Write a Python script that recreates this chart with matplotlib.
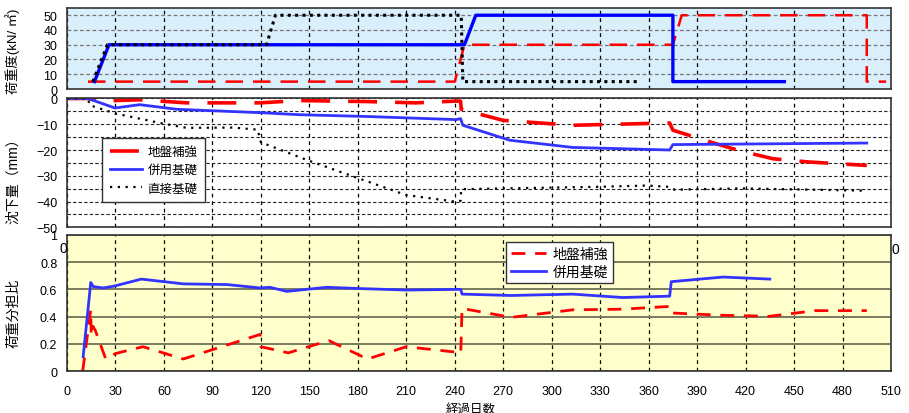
import numpy as np
import matplotlib.pyplot as plt
from matplotlib.ticker import MultipleLocator

plt.rcParams['font.family'] = ['Liberation Sans', 'Noto Sans CJK JP']

# 荷重度 (kN/m2)
load_reinf_x = [13, 240, 246, 375, 380.5, 495, 495, 507]
load_reinf_y = [5, 5, 30, 30, 50, 50, 5, 5]
load_comb_x = [17, 26, 246, 253, 375, 375, 444]
load_comb_y = [5, 30, 30, 50, 50, 5, 5]
load_direct_x = [16, 25, 123.5, 129, 244, 245, 355]
load_direct_y = [5, 30, 30, 50, 50, 5, 5]

# 沈下量 (mm)
settle_reinf_x = [0, 13, 20, 45, 74, 119.5, 144, 186, 216, 241, 243.6, 244, 270, 313, 373, 375, 396, 417, 437, 458, 495]
settle_reinf_y = [0, 0, -1, -0.5, -1.7, -1.7, -0.8, -1.2, -1.7, -1, -1, -4.2, -8.5, -10.4, -9.5, -12.3, -16.5, -20.4, -23.4, -24.6, -26]
settle_comb_x = [0, 13, 29.7, 45, 68, 119.5, 144, 186, 241, 243.6, 245, 274, 313, 373, 375, 495]
settle_comb_y = [0, 0, -3.7, -2.4, -4.2, -5.5, -6.3, -7, -8.2, -7.8, -10.4, -16.2, -19, -20, -17.9, -17.3]
settle_direct_x = [0, 13, 14, 29.7, 59, 74, 103, 118, 120, 149, 180, 210, 241, 243.6, 244, 328, 359, 373, 376, 417, 495]
settle_direct_y = [0, 0, -2.6, -5.8, -9.7, -11.4, -11.3, -12.1, -17, -24, -30.9, -37.5, -40.1, -39.7, -35.2, -34.3, -33.8, -34.3, -35.4, -34.9, -35.8]

# 荷重分担比
ratio_comb_x = [10, 14.7, 16.3, 22.5, 29.7, 46, 72, 99, 119.5, 125.6, 136, 160.7, 183, 210, 243.7, 244.5, 275, 313, 344, 373, 374, 406, 435]
ratio_comb_y = [0.107, 0.65, 0.62, 0.61, 0.625, 0.675, 0.64, 0.635, 0.61, 0.615, 0.585, 0.615, 0.605, 0.595, 0.6, 0.565, 0.555, 0.565, 0.54, 0.55, 0.656, 0.69, 0.675]
ratio_reinf_x = [9.7, 14.7, 15, 16, 17.5, 24, 30, 47, 72, 119.5, 120, 137, 162, 186, 210, 241, 243.7, 244.5, 275, 313, 344, 373, 374, 406, 435, 463, 495]
ratio_reinf_y = [0, 0.45, 0.26, 0.33, 0.3, 0.09, 0.13, 0.18, 0.09, 0.27, 0.18, 0.135, 0.225, 0.09, 0.18, 0.14, 0.13, 0.46, 0.395, 0.45, 0.455, 0.475, 0.427, 0.41, 0.403, 0.444, 0.444]

x_ticks = np.arange(0, 511, 30)
FS = 9

fig = plt.figure(figsize=(9.09, 4.14), dpi=100)
ax1 = fig.add_axes([0.0737, 0.7826, 0.9065, 0.196])
ax2 = fig.add_axes([0.0737, 0.4486, 0.9065, 0.3111])
ax3 = fig.add_axes([0.0737, 0.1007, 0.9065, 0.3300])

for ax in (ax1, ax2, ax3):
    ax.set_xlim(0, 510)
    ax.set_xticks(x_ticks)
    ax.tick_params(length=0, labelsize=FS, pad=7)
    ax.set_axisbelow(True)
    for s in ax.spines.values():
        s.set_color('#333333')
        s.set_linewidth(1.2)
    ax.grid(axis='x', color='black', linestyle=(0, (3, 3)), linewidth=0.9)

# top: load
ax1.set_facecolor('#d9effc')
ax1.set_ylim(0, 55)
ax1.set_yticks(np.arange(0, 51, 10))
ax1.grid(axis='y', color='#777777', linestyle=(0, (3, 2)), linewidth=0.9)
ax1.tick_params(axis='x', labelbottom=False)
ax1.plot(load_reinf_x, load_reinf_y, color='red', lw=1.8, dashes=(7, 4))
ax1.plot(load_comb_x, load_comb_y, color='blue', lw=2.4)
ax1.plot(load_direct_x, load_direct_y, color='black', lw=2.2, linestyle=(0, (1, 1.4)))
ax1.set_ylabel('荷重度(kN/ ㎡)', fontsize=9.5)
ax1.yaxis.set_label_coords(-0.057, 0.48)

# middle: settlement
ax2.set_facecolor('white')
ax2.set_ylim(-50, 0)
ax2.set_yticks(np.arange(-50, 1, 10))
ax2.yaxis.set_minor_locator(MultipleLocator(5))
ax2.tick_params(which='minor', length=0)
ax2.grid(axis='y', which='both', color='#222222', linestyle=(0, (3, 2)), linewidth=0.8)
ax2.tick_params(axis='x', labelbottom=False)
ax2.plot(settle_reinf_x, settle_reinf_y, color='red', lw=2.6, dashes=(8, 5), label='地盤補強')
ax2.plot(settle_comb_x, settle_comb_y, color='#3333ff', lw=2, label='併用基礎')
ax2.plot(settle_direct_x, settle_direct_y, color='black', lw=1.6, linestyle=(0, (1, 2.5)), label='直接基礎')
ax2.set_ylabel('沈下量（mm）', fontsize=FS + 1)
ax2.yaxis.set_label_coords(-0.057, 0.39)
leg = ax2.legend(loc='upper left', bbox_to_anchor=(0.043, 0.69), fontsize=FS,
                 fancybox=False, edgecolor='#333333', framealpha=1, borderaxespad=0,
                 handlelength=2.6, handletextpad=0.4, borderpad=0.6, labelspacing=0.5)
leg.get_frame().set_linewidth(1.0)

# bottom: load sharing ratio
ax3.set_facecolor('#ffffcc')
ax3.set_ylim(0, 1)
ax3.set_yticks([0, 0.2, 0.4, 0.6, 0.8, 1])
ax3.set_yticklabels(['0', '0.2', '0.4', '0.6', '0.8', '1'])
ax3.grid(axis='y', color='#7a7a60', linestyle='-', linewidth=1.4)
ax3.plot(ratio_reinf_x, ratio_reinf_y, color='red', lw=2, dashes=(5, 3.5), label='地盤補強')
ax3.plot(ratio_comb_x, ratio_comb_y, color='#3333ff', lw=2, label='併用基礎')
ax3.set_ylabel('荷重分担比', fontsize=FS + 1)
ax3.yaxis.set_label_coords(-0.057, 0.43)
ax3.tick_params(axis='x', pad=10)
leg3 = ax3.legend(loc='upper left', bbox_to_anchor=(0.533, 0.95), fontsize=FS + 1,
                  fancybox=False, edgecolor='#333333', framealpha=1, borderaxespad=0,
                  handlelength=2.5, handletextpad=0.5, borderpad=0.35, labelspacing=0.3)
leg3.get_frame().set_linewidth(1.0)

# stray labels left over from the overlapping charts
fig.text(0.0737, 1 - 249 / 414, '0', fontsize=FS + 1, ha='right', va='center')
fig.text(0.981, 1 - 250 / 414, '0', fontsize=FS + 1, ha='left', va='center')

fig.text(0.518, 1 - 410 / 414, '経過日数', fontsize=FS, ha='center', va='center')

fig.savefig('out.png', dpi=100)
